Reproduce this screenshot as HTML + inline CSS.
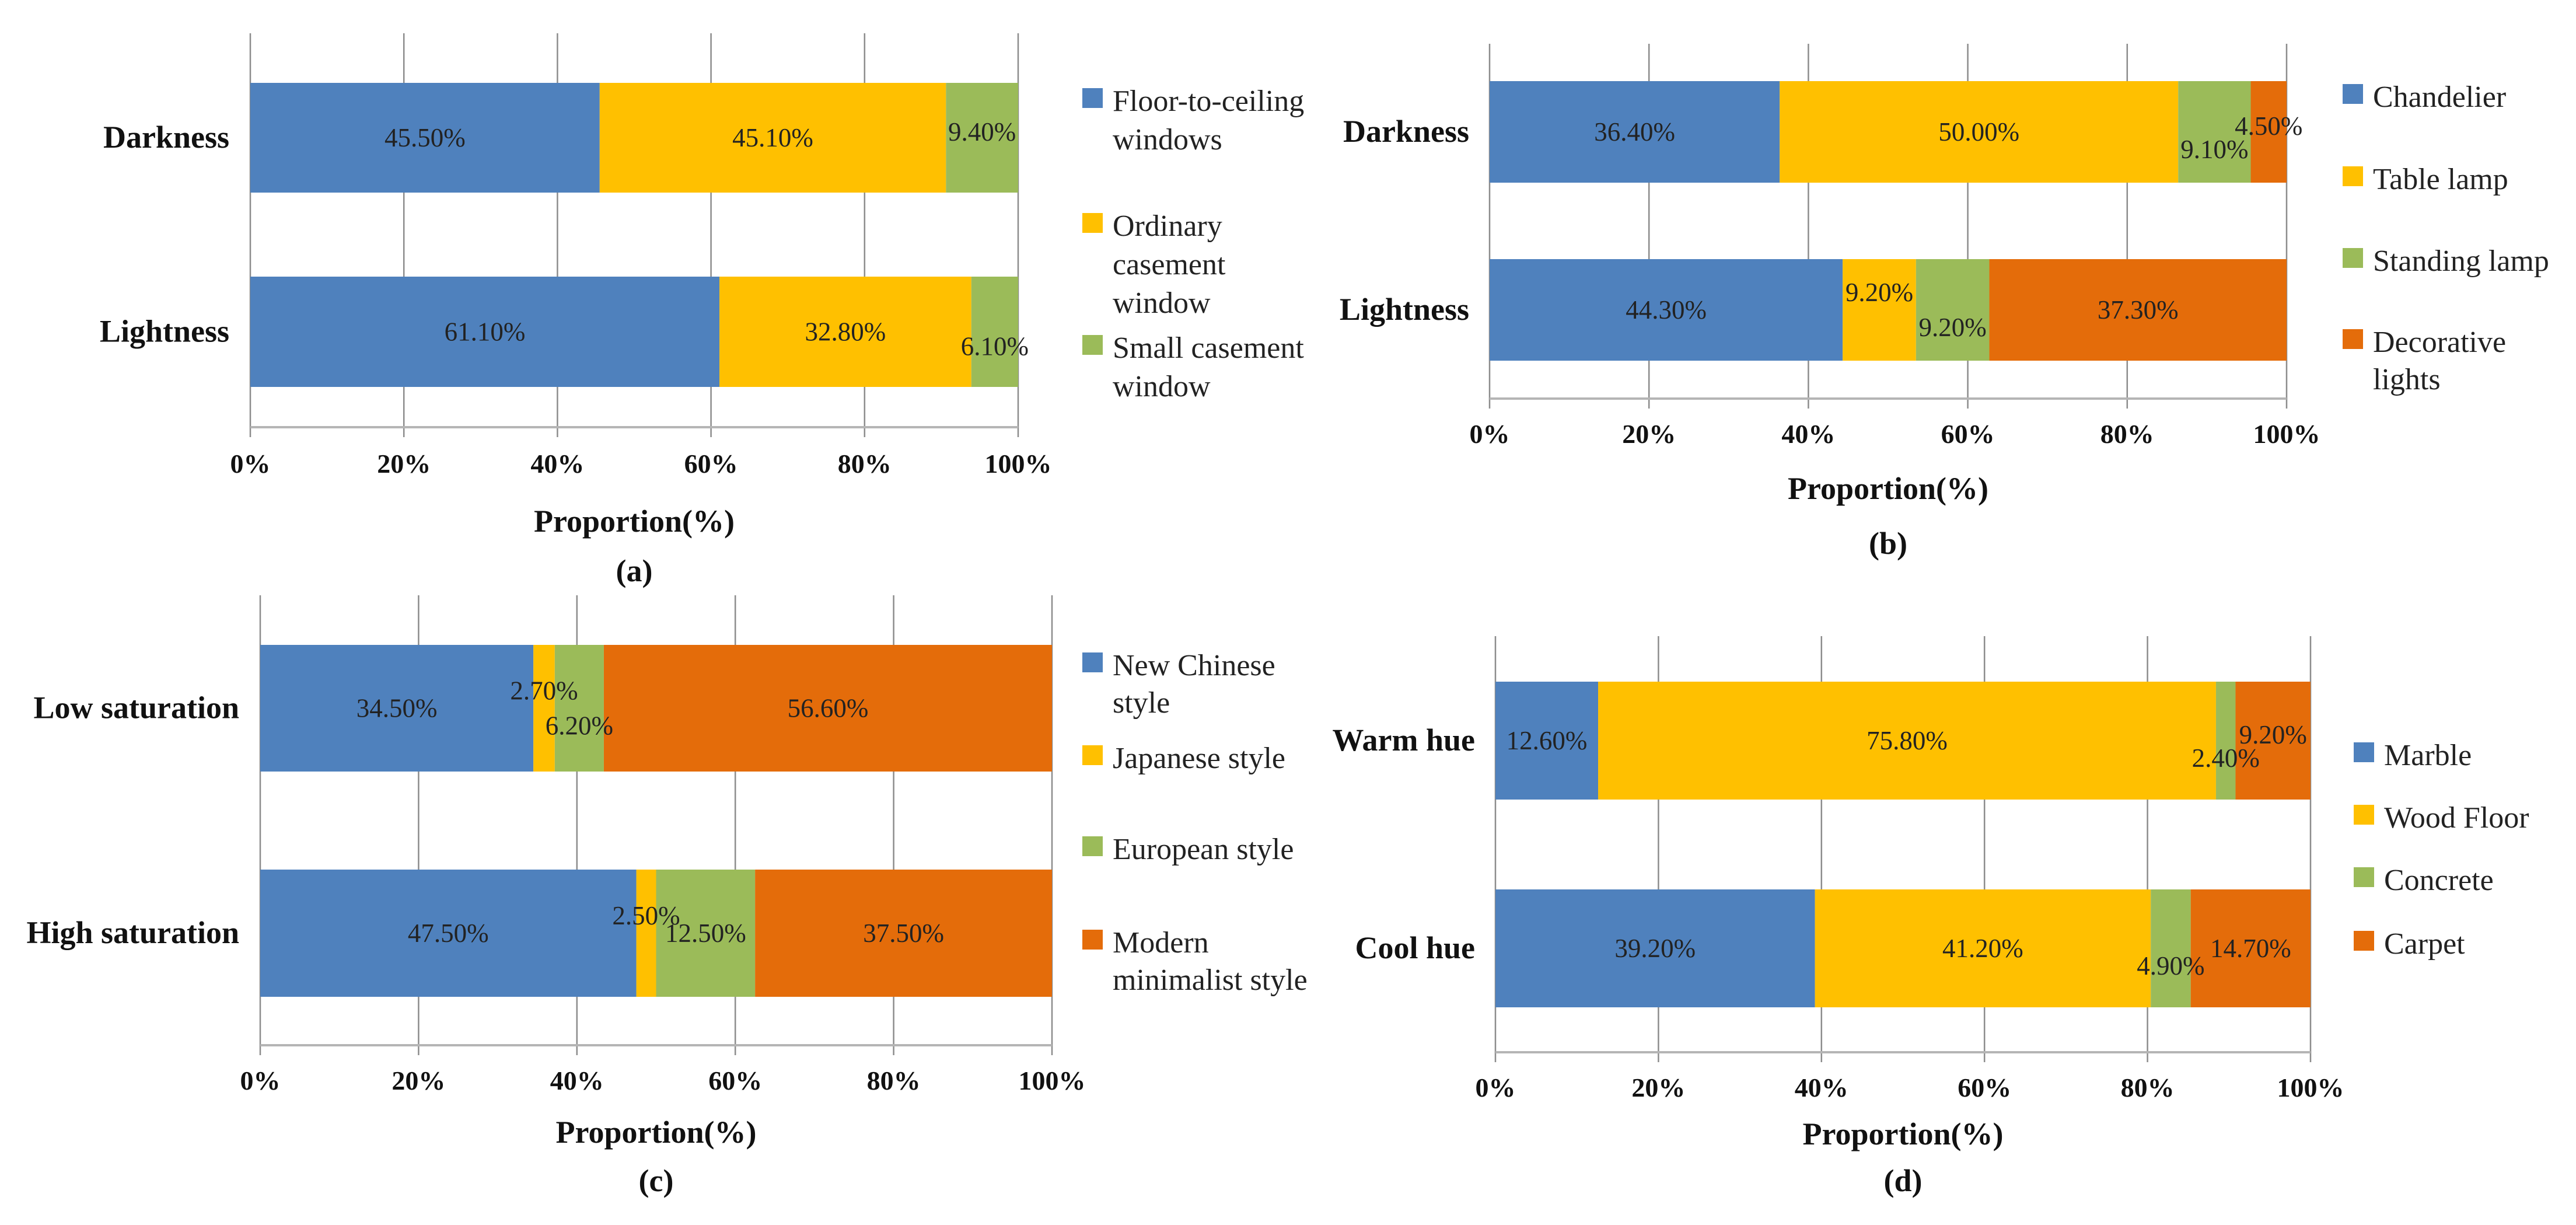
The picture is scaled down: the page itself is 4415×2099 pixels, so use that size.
<!DOCTYPE html>
<html><head><meta charset="utf-8"><style>
html,body{margin:0;padding:0;background:#fff;}
svg{display:block;font-family:"Liberation Serif",serif;}
</style></head><body>
<svg id="fig" width="4415" height="2099" viewBox="0 0 4415 2099" xmlns="http://www.w3.org/2000/svg"></svg>
<script>
const ticks = [0,20,40,60,80,100];
const tickLabels = ["0%","20%","40%","60%","80%","100%"];
const colors = ["#4f81bd","#ffc000","#9bbb59","#e46c0a"];

const aCats = ["Darkness","Lightness"];
const aSeries = [[45.5,61.1],[45.1,32.8],[9.4,6.1]];
const aLegend = [["Floor-to-ceiling","windows"],["Ordinary","casement","window"],["Small casement","window"]];

const bCats = ["Darkness","Lightness"];
const bSeries = [[36.4,44.3],[50.0,9.2],[9.1,9.2],[4.5,37.3]];
const bLegend = [["Chandelier"],["Table lamp"],["Standing lamp"],["Decorative","lights"]];

const cCats = ["Low saturation","High saturation"];
const cSeries = [[34.5,47.5],[2.7,2.5],[6.2,12.5],[56.6,37.5]];
const cLegend = [["New Chinese","style"],["Japanese style"],["European style"],["Modern","minimalist style"]];

const dCats = ["Warm hue","Cool hue"];
const dSeries = [[12.6,39.2],[75.8,41.2],[2.4,4.9],[9.2,14.7]];
const dLegend = [["Marble"],["Wood Floor"],["Concrete"],["Carpet"]];

const NS="http://www.w3.org/2000/svg";
const svg=document.getElementById('fig');
function mk(tag,attrs,parent){const e=document.createElementNS(NS,tag);for(const k in attrs)e.setAttribute(k,attrs[k]);(parent||svg).appendChild(e);return e;}

function panel(p){
  const g=mk('g',{});
  
  
  const xs=v=>p.x0+(p.x1-p.x0)*v/100;
  ticks.forEach((t,i)=>{
    const l=mk('line',{x1:xs(t),x2:xs(t),y1:p.gt,y2:p.ax+17,stroke:'#8c8c8c','stroke-width':2.5},g);
    
    
    const tx=mk('text',{x:xs(t),y:p.tk+16,'text-anchor':'middle','font-size':46,'font-weight':'bold',fill:'#111'},g);
    tx.textContent=tickLabels[i];
    
    
  });
  const axl=mk('line',{x1:p.x0,x2:p.x1,y1:p.ax,y2:p.ax,stroke:'#b5b5b5','stroke-width':4},g);
  
  
  const labels=[];
  p.cats.forEach((c,ci)=>{
    const [y0,y1]=p.bars[ci];
    let acc=0;
    p.series.forEach((s,si)=>{
      const v=s[ci];
      const r=mk('rect',{x:xs(acc),y:y0,width:xs(acc+v)-xs(acc),height:y1-y0,fill:colors[si]},g);
      
      
      let dy=0;
      if(v<10 && si>0){ dy = (si%2===0)? 30 : -30; if(si===p.series.length-1) dy=(ci===0?-10:25); }
      labels.push({x:(xs(acc)+xs(acc+v))/2,y:(y0+y1)/2+15+dy,txt:v.toFixed(2)+'%'});
      acc+=v;
    });
    const ct=mk('text',{x:p.labR,y:(y0+y1)/2+17,'text-anchor':'end','font-size':54,'font-weight':'bold',fill:'#111'},g);
    ct.textContent=c;
    
    
  });
  labels.forEach(L=>{
    const t=mk('text',{x:L.x,y:L.y,'text-anchor':'middle','font-size':45,fill:'#222'},g);
    t.textContent=L.txt;
    
    
  });
  p.legend.forEach((lines,li)=>{
    const ly=p.legY[li];
    const sq=mk('rect',{x:p.legX,y:ly-22,width:35,height:34,fill:colors[li]},g);
    
    
    lines.forEach((ln,k)=>{
      const t=mk('text',{x:p.legX+52,y:ly+17+k*p.lh,'font-size':52,fill:'#222'},g);
      t.textContent=ln;
      
      
    });
  });
  const xt=mk('text',{x:(p.x0+p.x1)/2,y:p.pr+18,'text-anchor':'middle','font-size':54,'font-weight':'bold',fill:'#111'},g);
  xt.textContent='Proportion(%)';
  
  
  const cap=mk('text',{x:(p.x0+p.x1)/2,y:p.cap+18,'text-anchor':'middle','font-size':54,'font-weight':'bold',fill:'#111'},g);
  cap.textContent='('+p.id+')';
  
  
}

panel({id:'a',x0:429,x1:1745,gt:57,ax:732,tk:794,pr:893,cap:978,labR:393,cats:aCats,series:aSeries,bars:[[142,330],[474,663]],legend:aLegend,legX:1855,legY:[173,387,596],lh:66});
panel({id:'b',x0:2553,x1:3919,gt:75,ax:683,tk:743,pr:837,cap:931,labR:2518,cats:bCats,series:bSeries,bars:[[139,313],[444,618]],legend:bLegend,legX:4015,legY:[166,307,447,586],lh:64});
panel({id:'c',x0:446,x1:1803,gt:1020,ax:1791,tk:1851,pr:1940,cap:2023,labR:410,cats:cCats,series:cSeries,bars:[[1105,1322],[1490,1708]],legend:cLegend,legX:1855,legY:[1140,1299,1455,1615],lh:64});
panel({id:'d',x0:2563,x1:3960,gt:1090,ax:1803,tk:1863,pr:1943,cap:2023,labR:2528,cats:dCats,series:dSeries,bars:[[1168,1370],[1524,1726]],legend:dLegend,legX:4034,legY:[1294,1401,1508,1617],lh:64});
</script>
</body></html>
